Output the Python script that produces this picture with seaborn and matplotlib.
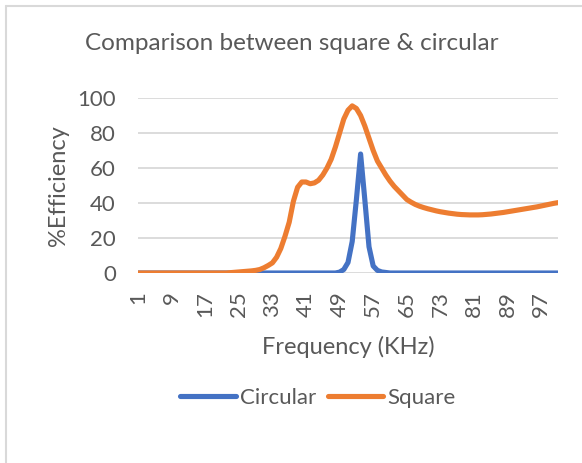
import numpy as np
import pandas as pd
import seaborn as sns
import matplotlib
matplotlib.use("Agg")
import matplotlib.pyplot as plt
from matplotlib.lines import Line2D

# Categories (frequency index 1..101)
frequency = list(range(1, 102))

circular = [
    0, 0, 0, 0, 0, 0, 0, 0, 0, 0,
    0, 0, 0, 0, 0, 0, 0, 0, 0, 0,
    0, 0, 0, 0, 0, 0, 0, 0, 0, 0,
    0, 0, 0, 0, 0, 0, 0, 0, 0, 0,
    0, 0, 0, 0, 0, 0, 0, 0, 0.5, 2,
    6, 18, 42, 68, 42, 15, 4, 1.5, 0.6, 0.3,
    0, 0, 0, 0, 0, 0, 0, 0, 0, 0,
    0, 0, 0, 0, 0, 0, 0, 0, 0, 0,
    0, 0, 0, 0, 0, 0, 0, 0, 0, 0,
    0, 0, 0, 0, 0, 0, 0, 0, 0, 0,
    0,
]

square = [
    0, 0, 0, 0, 0, 0, 0, 0, 0, 0,
    0, 0, 0, 0, 0, 0, 0, 0, 0, 0,
    0, 0, 0.2, 0.4, 0.6, 0.8, 1.0, 1.2, 1.5, 2.0,
    3.0, 4.3, 5.8, 9, 14, 21, 29, 41, 49, 52,
    52, 51, 51.5, 53, 56, 60, 65, 72, 80, 88,
    93, 95.5, 94, 90, 84, 77, 70, 64, 60, 56,
    52.5, 49.5, 47, 44.5, 42, 40.5, 39.2, 38.2, 37.4, 36.7,
    36.1, 35.5, 35, 34.6, 34.2, 33.9, 33.6, 33.4, 33.3, 33.2,
    33.2, 33.2, 33.3, 33.5, 33.7, 34, 34.3, 34.6, 35, 35.4,
    35.8, 36.2, 36.6, 37, 37.4, 37.8, 38.3, 38.8, 39.3, 39.8,
    40.2,
]

series_names = ["Circular", "Square"]
x_tick_labels = list(range(1, 102, 8))
y_ticks = [0, 20, 40, 60, 80, 100]

df = pd.DataFrame({
    "Frequency": frequency * 2,
    "Efficiency": circular + square,
    "Series": ["Circular"] * len(frequency) + ["Square"] * len(frequency),
})

sns.set_theme(style="white")
plt.rcParams["font.family"] = ["Lato", "DejaVu Sans"]

text_color = "#595959"
fig = plt.figure(figsize=(5.82, 4.63), dpi=100)
ax = fig.add_axes([138 / 582, 1 - 273 / 463, 420 / 582, 175 / 463])

sns.lineplot(data=df, x="Frequency", y="Efficiency", hue="Series",
             hue_order=series_names,
             palette={"Circular": "#4472C4", "Square": "#ED7D31"},
             linewidth=3.7, ax=ax, legend=False,
             solid_capstyle="round", solid_joinstyle="round")

ax.set_xlim(1, 101)
ax.set_ylim(0, 100)
ax.set_yticks(y_ticks)
ax.set_xticks(x_tick_labels)
ax.set_xticklabels([str(v) for v in x_tick_labels], rotation=90)
ax.tick_params(axis="both", colors=text_color, labelsize=16, length=0)
ax.tick_params(axis="x", pad=13)
ax.tick_params(axis="y", pad=16)
ax.grid(axis="y", color="#d9d9d9", linewidth=1.3)
ax.set_axisbelow(True)
for s in ax.spines.values():
    s.set_visible(False)

ax.set_xlabel("Frequency (KHz)", color=text_color, fontsize=17, labelpad=14)
ax.set_ylabel("%Efficiency", color=text_color, fontsize=17, labelpad=6)
fig.text(292 / 582, 1 - 44 / 463, "Comparison between square & circular",
         ha="center", va="center", color=text_color, fontsize=17.5)

handles = [Line2D([0], [0], color="#4472C4", lw=3.7, solid_capstyle="round"),
           Line2D([0], [0], color="#ED7D31", lw=3.7, solid_capstyle="round")]
fig.legend(handles, series_names, loc="center", bbox_to_anchor=(318 / 582, 1 - 398 / 463),
           ncol=2, frameon=False, fontsize=16, handlelength=2.5,
           handletextpad=0.2, columnspacing=0.5, labelcolor=text_color)

# chart border (top and left visible)
fig.add_artist(Line2D([5.5 / 582, 1], [1 - 5.5 / 463] * 2, transform=fig.transFigure,
                      color="#d9d9d9", lw=1.5))
fig.add_artist(Line2D([5.5 / 582] * 2, [0, 1 - 5.5 / 463], transform=fig.transFigure,
                      color="#d9d9d9", lw=1.5))

fig.savefig("out.png", dpi=100)
